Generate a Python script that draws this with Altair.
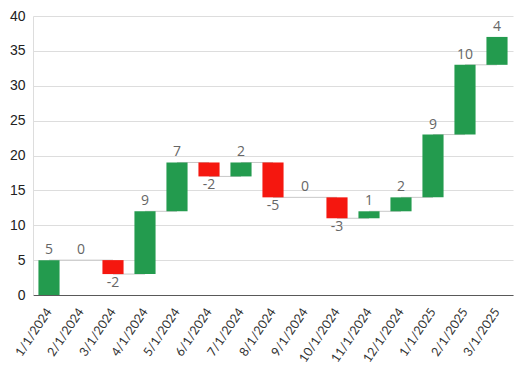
import altair as alt
import pandas as pd

dates = ["1/1/2024", "2/1/2024", "3/1/2024", "4/1/2024", "5/1/2024", "6/1/2024",
         "7/1/2024", "8/1/2024", "9/1/2024", "10/1/2024", "11/1/2024", "12/1/2024",
         "1/1/2025", "2/1/2025", "3/1/2025"]
changes = [5, 0, -2, 9, 7, -2, 2, -5, 0, -3, 1, 2, 9, 10, 4]
y_ticks = [0, 5, 10, 15, 20, 25, 30, 35, 40]

rows = []
total = 0
for i, (d, c) in enumerate(zip(dates, changes)):
    start = total
    total += c
    rows.append({
        "date": d, "change": c, "start": start, "end": total,
        "next": dates[i + 1] if i + 1 < len(dates) else None,
        "sign": "up" if c > 0 else ("down" if c < 0 else "zero"),
        "label": str(c),
    })
df = pd.DataFrame(rows)

xenc = alt.X("date:N", sort=dates, title=None,
             scale=alt.Scale(paddingInner=0.34, paddingOuter=0.17),
             axis=alt.Axis(labelAngle=-56, labelFont="Lato", labelFontSize=12.5,
                           labelColor="#333333", ticks=False, domainColor="#595959",
                           domainWidth=1.2, labelPadding=14))

yscale = alt.Scale(domain=[0, 40], nice=False)
yaxis = alt.Axis(values=y_ticks, ticks=False, labelFont="Liberation Sans", labelFontSize=14,
                 labelColor="#222222", labelPadding=8, gridColor="#dddddd",
                 domainColor="#dddddd", labelOverlap=False)

base = alt.Chart(df)

conn = base.transform_filter("datum.next != null").mark_rule(color="#c8c8c8", strokeWidth=1).encode(
    x=xenc, x2="next:N", y=alt.Y("end:Q", title=None, scale=yscale, axis=yaxis))

bars = base.transform_filter("datum.change != 0").mark_bar(strokeWidth=0).encode(
    x=xenc,
    y=alt.Y("start:Q", title=None, scale=yscale, axis=yaxis),
    y2="end:Q",
    color=alt.Color("sign:N", scale=alt.Scale(domain=["up", "down"], range=["#239b4e", "#f5170f"]),
                    legend=None),
)

pos_txt = base.transform_filter("datum.change >= 0").mark_text(
    baseline="bottom", dy=-3, font="Open Sans", fontSize=14, color="#666666").encode(
    x=xenc, y=alt.Y("end:Q", title=None, scale=yscale, axis=yaxis), text="label:N")

neg_txt = base.transform_filter("datum.change < 0").mark_text(
    baseline="top", dy=2, font="Open Sans", fontSize=14, color="#666666").encode(
    x=xenc, y=alt.Y("end:Q", title=None, scale=yscale, axis=yaxis), text="label:N")

chart = alt.layer(conn, bars, pos_txt, neg_txt).properties(
    width=480, height=279,
    autosize=alt.AutoSizeParams(type="none"),
    padding={"left": 25, "top": 8, "right": 3, "bottom": 72},
).configure_view(stroke=None)

chart.save("out.html", embed_options={"renderer": "svg", "actions": False})
